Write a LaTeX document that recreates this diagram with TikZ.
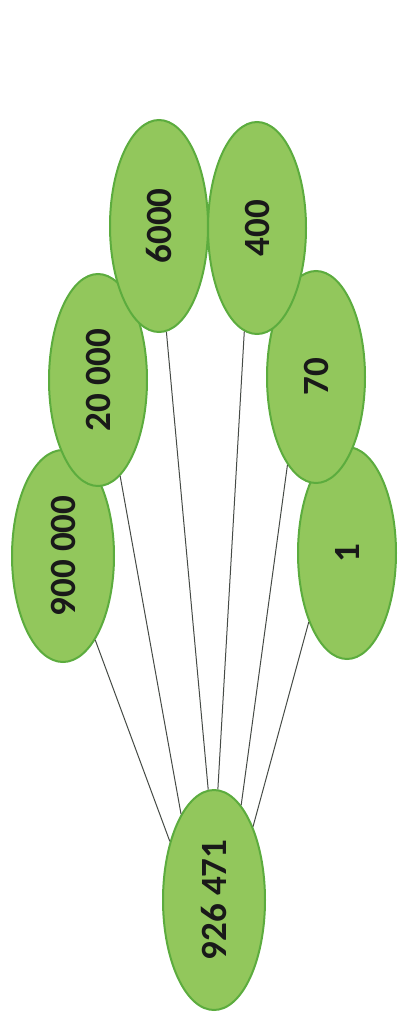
\documentclass[tikz,border=0pt]{standalone}
\usepackage{fontspec}
\newfontfamily\lblfont{Carlito}
\usetikzlibrary{shapes.geometric}
\definecolor{leaf}{RGB}{146,199,92}
\definecolor{leafedge}{RGB}{92,172,62}
\definecolor{wire}{RGB}{70,75,70}
\begin{document}
\begin{tikzpicture}[x=1pt,y=-1pt,
  oval/.style={ellipse, draw=leafedge, line width=2pt, fill=leaf, inner sep=0pt,
    minimum width=98pt, minimum height=212pt, font=\lblfont\bfseries\fontsize{37}{40}\selectfont, text=black!90},
  wire/.style={draw=wire, line width=1pt}]
\useasboundingbox (0,0) rectangle (397,1017);
\node[oval, minimum width=102pt, minimum height=220pt] (root) at (214,900) {\rotatebox{90}{926 471}};
\node[oval, minimum width=102pt] (a) at (63,556) {\rotatebox{90}{900 000}};
\node[oval] (f) at (347,553) {\rotatebox{90}{1}};
\node[oval] (b) at (98,380) {\rotatebox{90}{20 000}};
\node[oval] (e) at (316,377) {\rotatebox{90}{70}};
\node[oval] (c) at (159,226) {\rotatebox{90}{6000}};
\node[oval] (d) at (257,228) {\rotatebox{90}{400}};
\draw[wire] (a.-69) -- (root.127);
\draw[wire] (b.-77) -- (root.111);
\draw[wire] (c.-86) -- (root.93);
\draw[wire] (d.-97) -- (root.88);
\draw[wire] (e.-108) -- (root.74);
\draw[wire] (f.-119) -- (root.62);
\end{tikzpicture}
\end{document}
